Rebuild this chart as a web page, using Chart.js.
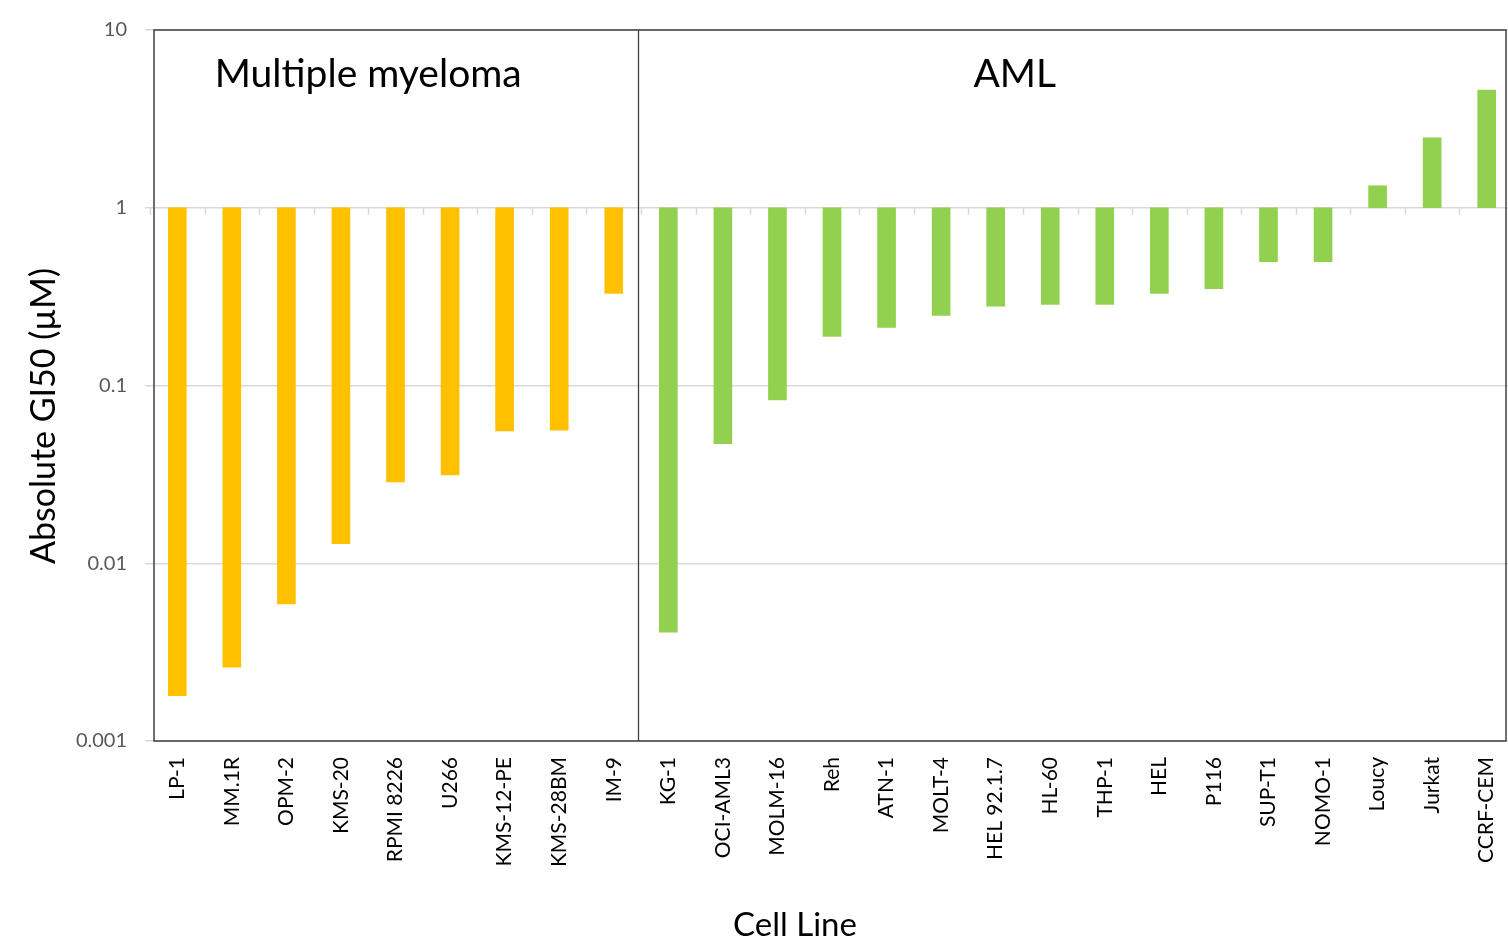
<!DOCTYPE html>
<html>
<head>
<meta charset="utf-8">
<script src="https://cdn.jsdelivr.net/npm/chart.js@4.4.1/dist/chart.umd.min.js"></script>
<style>
  html, body { margin: 0; padding: 0; background: #fff; overflow: hidden; }
  #wrap { width: 1514px; height: 942px; }
</style>
</head>
<body>
<div id="wrap"><canvas id="gi50Chart" width="1514" height="942"></canvas></div>
<script>
const cellLines = ["LP-1", "MM.1R", "OPM-2", "KMS-20", "RPMI 8226", "U266", "KMS-12-PE", "KMS-28BM", "IM-9",
  "KG-1", "OCI-AML3", "MOLM-16", "Reh", "ATN-1", "MOLT-4", "HEL 92.1.7", "HL-60", "THP-1", "HEL", "P116",
  "SUP-T1", "NOMO-1", "Loucy", "Jurkat", "CCRF-CEM"];
const gi50 = [0.0018, 0.0026, 0.0059, 0.0129, 0.0287, 0.0314, 0.0555, 0.056, 0.33,
  0.0041, 0.047, 0.083, 0.189, 0.212, 0.248, 0.279, 0.286, 0.286, 0.33, 0.351,
  0.498, 0.498, 1.33, 2.47, 4.59];
const groupNames = ["Multiple myeloma", "AML"];
const groupSizes = [9, 16];
const groupColors = ["#FFC000", "#92D050"];
const yTicks = [0.001, 0.01, 0.1, 1, 10];
const FONT = "Lato, 'Liberation Sans', sans-serif";

const barColors = [];
groupSizes.forEach((n, gi) => { for (let i = 0; i < n; i++) barColors.push(groupColors[gi]); });

// draws the plot box, the group divider, the tick marks on the axis crossing at 1 and the text labels
const frame = {
  id: "frame",
  afterDatasetsDraw(chart) {
    const { ctx, chartArea: a, scales } = chart;
    const x = scales.x, y = scales.y;
    const boxL = a.left + 4, boxR = a.right - 8;
    ctx.save();
    const y1 = y.getPixelForValue(1);
    ctx.strokeStyle = "#d9d9d9";
    ctx.lineWidth = 1.5;
    for (let i = 0; i < cellLines.length; i++) {
      const px = Math.round(x.getPixelForValue(i - 0.5)) + 0.5;
      ctx.beginPath(); ctx.moveTo(px, y1); ctx.lineTo(px, y1 + 7); ctx.stroke();
    }
    const dx = Math.round(x.getPixelForValue(groupSizes[0] - 0.5)) - 2.5;
    ctx.strokeStyle = "#404040";
    ctx.lineWidth = 1.3;
    ctx.beginPath(); ctx.moveTo(dx, a.top); ctx.lineTo(dx, a.bottom); ctx.stroke();
    ctx.lineWidth = 1.5;
    ctx.strokeRect(boxL, a.top, boxR - boxL, a.bottom - a.top);
    ctx.fillStyle = "#000";
    ctx.font = "39px " + FONT;
    ctx.textAlign = "center";
    ctx.textBaseline = "middle";
    const ty = y.getPixelForValue(5.6);
    ctx.fillText(groupNames[0], x.getPixelForValue(3.5), ty);
    ctx.fillText(groupNames[1], x.getPixelForValue(15.35), ty);
    ctx.font = "33px " + FONT;
    ctx.fillText("Cell Line", 795, 925);
    ctx.translate(44, 416);
    ctx.rotate(-Math.PI / 2);
    ctx.font = "34px " + FONT;
    ctx.fillText("Absolute GI50 (µM)", 0, 0);
    ctx.restore();
  }
};

new Chart(document.getElementById("gi50Chart"), {
  type: "bar",
  data: {
    labels: cellLines,
    datasets: [{
      data: gi50.map(v => [1, v]),
      backgroundColor: barColors,
      borderWidth: 0,
      barThickness: 18,
    }],
  },
  options: {
    responsive: false,
    animation: false,
    layout: { padding: { top: 30, right: 0, left: 0, bottom: 0 } },
    plugins: { legend: { display: false }, tooltip: { enabled: false } },
    scales: {
      x: {
        grid: { display: false },
        border: { display: false },
        ticks: {
          color: "#000",
          font: { family: FONT, size: 21 },
          minRotation: 90, maxRotation: 90,
          autoSkip: false,
          padding: 8,
        },
        afterFit(s) { s.height = 201; s.paddingLeft = 0; s.paddingRight = 0; },
      },
      y: {
        type: "logarithmic",
        min: 0.001, max: 10,
        afterBuildTicks(s) { s.ticks = yTicks.map(v => ({ value: v })); },
        grid: { color: "#d9d9d9", lineWidth: 1.5, tickLength: 5 },
        border: { display: false },
        ticks: {
          color: "#595959",
          font: { family: FONT, size: 20 },
          padding: 18,
          callback: v => String(v),
        },
        afterFit(s) { s.width = 150; s.paddingTop = 0; s.paddingBottom = 0; },
      },
    },
  },
  plugins: [frame],
});
</script>
</body>
</html>
